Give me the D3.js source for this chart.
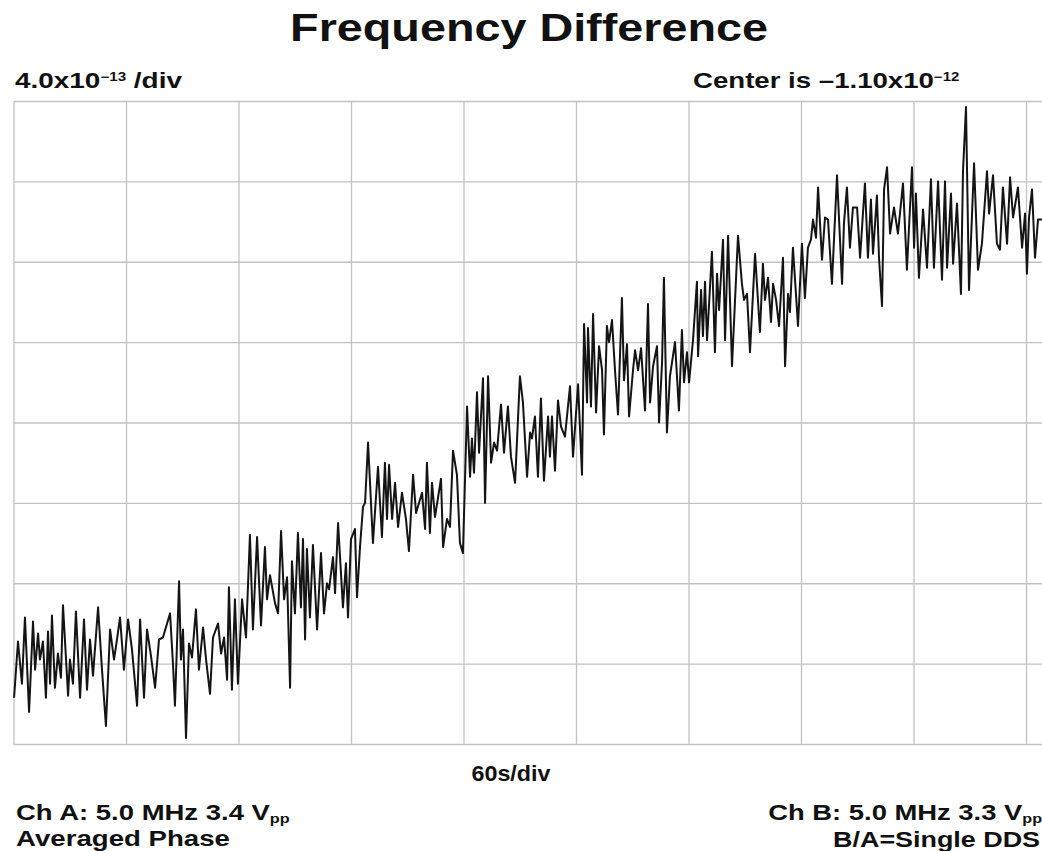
<!DOCTYPE html>
<html><head><meta charset="utf-8">
<script src="https://cdn.jsdelivr.net/npm/d3@7"></script>
<style>
html,body{margin:0;padding:0;background:#fff;overflow:hidden}
svg{display:block}
text{font-family:"Liberation Sans",Arial,Helvetica,sans-serif;font-weight:bold;fill:#111}
</style></head><body>
<svg id="chart" width="1042" height="851"></svg>
<script>
// time in seconds (60 s per division)
const timeS = [
0.3,2.4,4.5,6.1,8.3,10.4,11.5,13.1,14.1,15.7,17.3,18.4,19.5,20.5,22.1,23.7,25.3,26.4,29.1,30.1,
31.7,33.3,35.5,37.6,39.2,40.8,42.4,45.1,47.2,49.3,51.5,53.6,55.2,56.8,58.9,61.1,63.2,65.9,67.5,69.6,
71.2,73.3,75.5,77.6,79.7,83.5,85.1,86.1,88.3,89.3,90.4,92.0,93.6,95.2,97.3,98.9,101.1,102.7,104.8,106.4,
109.1,110.7,112.3,113.9,114.9,116.5,118.1,119.7,
121.9,124.0,126.1,127.7,129.9,132.0,134.1,135.2,136.8,139.5,
141.1,142.7,144.3,145.9,147.5,148.5,150.1,151.7,153.3,154.4,
155.5,156.5,158.1,159.7,161.9,164.0,165.6,167.2,168.3,170.4,
171.5,173.1,175.7,177.3,178.4,180.0,182.1,183.2,184.8,186.4,
187.5,189.1,191.7,194.4,196.5,198.1,199.2,200.3,201.9,203.5,
205.1,207.2,209.3,210.9,213.1,214.7,217.9,219.5,220.5,222.1,
223.2,224.8,228.0,229.1,231.2,232.8,234.4,236.5,238.1,239.7,
241.9,243.5,244.5,245.6,247.2,248.3,250.4,251.5,253.1,254.7,
256.3,257.9,260.0,261.6,263.7,265.3,267.5,270.1,271.7,273.9,
275.5,276.5,278.1,279.7,281.3,282.9,285.1,286.1,287.2,288.8,
290.4,292.0,294.1,296.8,298.4,301.1,303.2,304.3,305.9,306.4,
308.0,309.1,310.7,312.3,313.9,314.9,316.5,317.6,319.2,320.8,
322.4,324.5,325.6,327.2,328.3,330.4,331.5,333.1,334.7,336.8,
338.4,339.5,341.1,343.2,344.3,345.9,346.9,348.5,350.1,352.8,
354.9,356.5,357.6,359.2,360.3,362.4,
364.5,365.1,366.7,367.7,368.8,369.9,372.5,374.1,375.2,376.3,
378.4,379.5,381.1,383.2,386.4,388.5,389.6,391.2,392.8,395.5,
398.1,399.7,400.8,402.4,404.0,405.1,406.7,408.3,410.4,411.5,
413.1,414.1,415.7,417.3,418.4,420.5,422.1,423.7,425.3,426.4,
428.0,429.1,431.2,432.8,434.4,436.5,439.2,441.9,442.9,444.5,
446.1,447.7,449.9,451.5,454.1,455.7,457.3,458.4,460.5,461.6,
463.2,464.3,465.9,467.5,469.6,471.7,474.4,476.5,479.2,480.3,
481.3,482.9,485.1,487.2,489.3,490.9,493.1,495.2,496.8,497.9,
500.0,501.1,503.2,505.3,506.4,508.0,509.6,512.3,514.4,516.5,
519.2,520.3,522.4,524.5,526.1,527.7,529.9,531.5,533.1,535.7,
537.9,539.5,540.5,541.6,543.2,544.8,546.4,548.5
];
// frequency difference in units of 1e-13
const freqE13 = [
-24.7,-21.9,-24.0,-20.7,-25.4,-20.9,-23.3,-21.5,-22.8,-21.9,-24.7,-21.4,-24.0,-20.6,-24.2,-22.5,-23.7,-20.1,-24.6,-22.8,
-24.0,-20.4,-24.7,-20.8,-24.3,-21.8,-23.6,-20.2,-23.3,-26.1,-21.3,-22.8,-21.8,-20.7,-23.3,-20.8,-22.3,-25.1,-20.8,-24.7,
-21.3,-22.6,-24.2,-21.8,-21.7,-20.5,-23.1,-25.1,-18.9,-22.8,-21.3,-26.7,-22.0,-22.7,-20.3,-23.3,-21.2,-22.8,-24.5,-21.7,
-21.0,-22.5,-21.7,-23.8,-19.2,-24.3,-19.8,-24.0,
-19.8,-21.7,-16.6,-21.3,-16.7,-21.1,-17.2,-19.8,-18.6,-20.0,
-20.5,-16.4,-19.8,-18.7,-24.2,-17.9,-20.5,-16.5,-20.2,-16.8,
-21.8,-17.3,-20.7,-17.1,-21.3,-17.5,-20.5,-19.0,-19.3,-17.7,
-19.5,-16.0,-20.2,-18.0,-20.7,-16.8,-16.3,-19.7,-17.2,-15.2,
-15.0,-12.0,-17.0,-13.2,-16.7,-13.0,-15.8,-13.1,-15.8,-14.0,
-16.2,-14.5,-15.8,-17.4,-13.6,-15.5,-14.5,-16.3,-13.0,-16.5,
-14.0,-15.7,-13.8,-17.2,-15.8,-16.2,-12.4,-13.6,-17.0,-17.5,
-10.2,-13.7,-11.8,-13.5,-9.5,-12.5,-8.8,-15.0,-8.7,-13.0,
-12.0,-12.4,-10.1,-12.5,-10.2,-12.7,-14.0,-8.7,-10.0,-13.7,
-11.5,-11.8,-10.7,-13.7,-9.8,-13.9,-10.7,-12.7,-10.7,-13.4,
-9.9,-11.2,-11.7,-9.2,-12.7,-9.1,-13.6,-6.1,-10.0,-6.3,
-10.2,-5.6,-10.5,-7.2,-8.4,-11.6,-6.2,-7.0,-5.9,-8.4,
-10.6,-4.8,-8.9,-7.1,-10.7,-8.4,-7.4,-8.4,-7.3,-10.4,
-5.1,-10.0,-8.2,-7.2,-11.0,-8.0,-3.8,-11.5,-8.7,-7.0,
-10.4,-6.4,-9.0,-7.5,-9.0,-6.9,
-4.0,-7.7,-4.4,-6.7,-4.0,-6.9,-2.5,-7.5,-3.6,-5.4,
-1.9,-6.9,-1.7,-8.2,-1.7,-4.1,-4.9,-4.6,-7.5,-2.6,
-6.5,-3.1,-4.9,-3.8,-6.0,-4.1,-4.9,-6.2,-2.8,-8.2,
-4.6,-5.5,-2.3,-4.6,-6.2,-2.1,-4.8,-2.3,-1.9,-0.9,
-1.8,0.7,-2.9,-0.8,-0.9,-4.1,1.3,-4.1,-1.1,0.7,
-2.3,-0.3,-0.3,-2.8,0.9,-2.8,0.1,-2.6,0.3,-2.8,
-5.2,0.6,1.7,-1.6,-0.3,-1.6,0.9,-3.4,1.7,-2.3,
0.4,-3.8,-0.4,-3.3,1.1,-3.3,1.0,-3.9,1.0,-3.3,
0.4,-3.1,-0.1,-4.6,1.5,4.7,-4.4,1.9,-3.4,-2.1,
1.5,-0.6,1.3,-2.1,-2.4,0.7,-2.1,1.2,-0.8,0.7,
-2.3,-0.6,-3.6,-0.8,0.6,-2.8,-0.9,-0.9
];
const xTicks = [0,60,120,180,240,300,360,420,480,540];
const yTicks = [5,1,-3,-7,-11,-15,-19,-23,-27];

const titleText = "Frequency Difference";
const scaleText = ["4.0x10", "\u221213", " /div"];
const centerText = ["Center is \u20131.10x10", "\u221212"];
const xLabelText = "60s/div";
const chA = ["Ch A: 5.0 MHz 3.4 V", "pp"];
const chB = ["Ch B: 5.0 MHz 3.3 V", "pp"];
const modeText = "Averaged Phase";
const ratioText = "B/A=Single DDS";

const W = 1042, H = 851;
const plot = {left: 13.5, right: 1026, top: 101, bottom: 744, edge: 1042};

const svg = d3.select("#chart");
const x = d3.scaleLinear().domain([0, 540]).range([plot.left, plot.right]);
const y = d3.scaleLinear().domain([-27, 5]).range([plot.bottom, plot.top]);

// grid
const gx = svg.append("g").attr("transform", `translate(0,${plot.bottom})`)
  .call(d3.axisBottom(x).tickValues(xTicks).tickSize(-(plot.bottom - plot.top)).tickFormat(""));
const gy = svg.append("g").attr("transform", `translate(${plot.left},0)`)
  .call(d3.axisLeft(y).tickValues(yTicks).tickSize(-(plot.edge - plot.left)).tickFormat(""));
[gx, gy].forEach(g => {
  g.select(".domain").remove();
  g.selectAll(".tick line").attr("stroke", "#c2c2c2").attr("stroke-width", 1.3);
});

// trace
const n = Math.min(timeS.length, freqE13.length);
const pts = d3.range(n).map(i => [timeS[i], freqE13[i]]);
svg.append("path").datum(pts)
  .attr("fill", "none").attr("stroke", "#141414").attr("stroke-width", 2)
  .attr("stroke-linejoin", "round")
  .attr("d", d3.line().x(d => x(d[0])).y(d => y(d[1])));

// labels, stretched horizontally to match the wide lettering of the original
function label(px, py, anchor, width, size, parts) {
  const t = svg.append("text").attr("text-anchor", anchor).attr("x", 0).attr("y", 0)
    .style("font-size", size + "px");
  parts.forEach(p => {
    const s = t.append("tspan").text(p.text);
    if (p.size) s.style("font-size", p.size + "px");
    if (p.dy) s.attr("dy", p.dy);
  });
  const w = t.node().getBBox().width;
  t.attr("transform", `translate(${px},${py}) scale(${width / w},1)`);
}
label(529, 41, "middle", 478, 38, [{text: titleText}]);
label(15, 88, "start", 168, 22, [{text: scaleText[0]}, {text: scaleText[1], size: 12, dy: -7}, {text: scaleText[2], dy: 7}]);
label(693, 88, "start", 267, 22, [{text: centerText[0]}, {text: centerText[1], size: 12, dy: -7}]);
label(511, 781, "middle", 80, 22, [{text: xLabelText}]);
label(16, 820, "start", 274, 22, [{text: chA[0]}, {text: chA[1], size: 13, dy: 3}]);
label(16, 846, "start", 214, 22, [{text: modeText}]);
label(1042, 820, "end", 274, 22, [{text: chB[0]}, {text: chB[1], size: 13, dy: 3}]);
label(1040, 847, "end", 207, 22, [{text: ratioText}]);
</script>
</body></html>
